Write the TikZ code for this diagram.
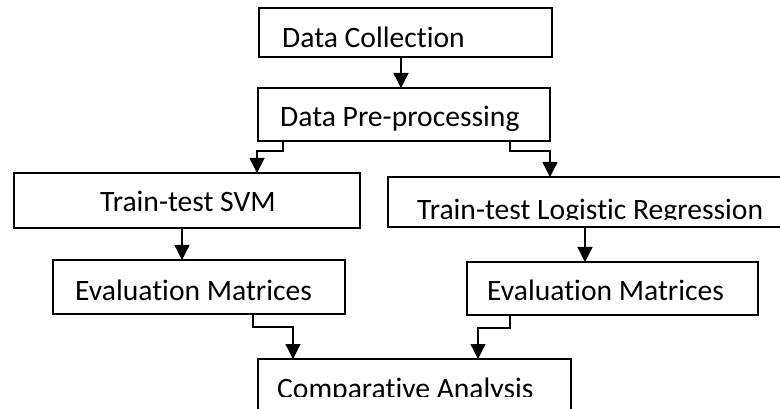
\documentclass[tikz,border=0pt]{standalone}
\usepackage{fontspec}
\setmainfont{Carlito}[Ligatures=NoCommon]
\usetikzlibrary{arrows.meta}

\begin{document}
\begin{tikzpicture}[x=1pt,y=-1pt,
  box/.style={draw=black,line width=1.4pt,fill=white},
  label/.style={anchor=base west,inner sep=0pt,font=\fontsize{29.6}{31}\selectfont},
  link/.style={line width=1.3pt,-{Triangle[width=15pt,length=15pt]}}]
\clip (0,0) rectangle (780,409);
\fill[white] (0,0) rectangle (780,409);

% boxes
\path[box] (259,8) rectangle (552,57);
\path[box] (258,88) rectangle (550,141);
\path[box] (14,173) rectangle (360,228);
\path[box] (388,177) rectangle (784,227);
\path[box] (53,260) rectangle (345,314);
\path[box] (467,262) rectangle (758,315);
\path[box] (258,359) rectangle (571,412);

% attachment points on the box edges
\coordinate (c1b) at (401,57);
\coordinate (c2t) at (401,88);
\coordinate (c2bl) at (283,141);
\coordinate (c2br) at (510,141);
\coordinate (c3t) at (257,173);
\coordinate (c3b) at (182,228);
\coordinate (c4t) at (550,177);
\coordinate (c4b) at (585,227);
\coordinate (c5t) at (182,260);
\coordinate (c5b) at (253,314);
\coordinate (c6t) at (585,262);
\coordinate (c6b) at (510,315);
\coordinate (c7l) at (293,359);
\coordinate (c7r) at (478,359);

% texts, clipped to the visible band of each box
\node[label] (t1) at (282,48) {Data Collection};
\begin{scope}
  \clip (258,88) rectangle (550,132);
  \node[label] (t2) at (280,127) {Data Pre-processing};
\end{scope}
\node[label] (t3) at (100,212) {Train-test SVM};
\begin{scope}
  \clip (388,177) rectangle (780,220);
  \node[label] (t4) at (417,219) {Train-test Logistic Regression};
\end{scope}
\node[label] (t5) at (75,300) {Evaluation Matrices};
\node[label] (t6) at (487,301) {Evaluation Matrices};
\begin{scope}
  \clip (258,359) rectangle (571,396);
  \node[label] (t7) at (277,398) {Comparative Analysis};
\end{scope}

% connectors
\draw[link] (c1b) -- (c2t);
\draw[link] (c2bl) |- (270,151) -| (c3t);
\draw[link] (c2br) |- (530,151) -| (c4t);
\draw[link] (c3b) -- (c5t);
\draw[link] (c4b) -- (c6t);
\draw[link] (c5b) |- (273,327) -| (c7l);
\draw[link] (c6b) |- (494,328) -| (c7r);
\end{tikzpicture}
\end{document}
